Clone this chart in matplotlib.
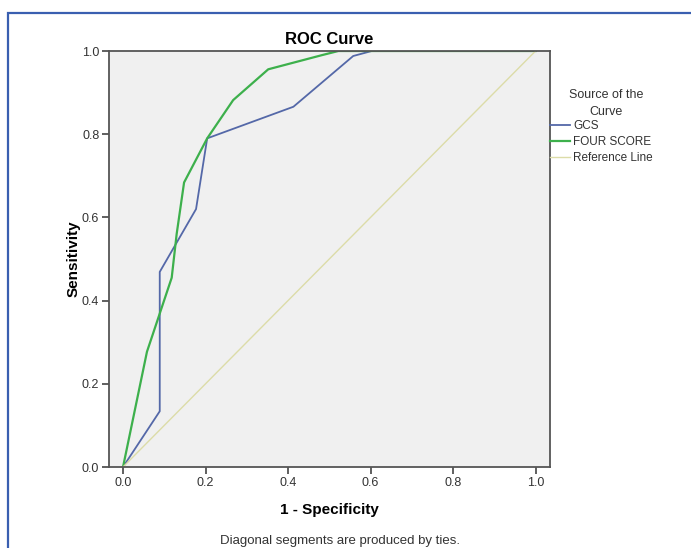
import matplotlib
matplotlib.use("Agg")
import matplotlib.pyplot as plt
from matplotlib.patches import Rectangle

plt.rcParams['font.family'] = ['Liberation Sans', 'DejaVu Sans']

# ROC data (1 - specificity, sensitivity)
gcs_x = [0.0, 0.089, 0.089, 0.177, 0.204, 0.413, 0.558, 0.603, 1.0]
gcs_y = [0.0, 0.134, 0.469, 0.620, 0.790, 0.866, 0.988, 1.0, 1.0]
four_x = [0.0, 0.058, 0.118, 0.130, 0.148, 0.204, 0.267, 0.352, 0.482, 0.522, 1.0]
four_y = [0.0, 0.277, 0.455, 0.560, 0.684, 0.790, 0.882, 0.956, 0.990, 1.0, 1.0]
ref_x = [0.0, 1.0]
ref_y = [0.0, 1.0]
ticks = [0.0, 0.2, 0.4, 0.6, 0.8, 1.0]

fig = plt.figure(figsize=(6.91, 5.48), dpi=100)
W, H = 691, 548

# blue frame around the image
fig.patches.append(Rectangle((7.5 / W, -0.1), 1.2, (548 - 12.5) / H + 0.1,
                             transform=fig.transFigure, fill=False,
                             edgecolor='#3a5fb0', linewidth=1.6))

ax = fig.add_axes([109 / W, 1 - 467 / H, (550 - 109) / W, (467 - 51) / H])
ax.set_facecolor('#f0f0f0')

l1, = ax.plot(gcs_x, gcs_y, color='#5468a8', lw=1.3)
l2, = ax.plot(four_x, four_y, color='#3db04c', lw=1.6)
l3, = ax.plot(ref_x, ref_y, color='#dcdca8', lw=1.0)

ax.set_xlim(-0.034, 1.035)
ax.set_ylim(0, 1)
ax.set_xticks(ticks)
ax.set_yticks(ticks)
ax.set_xticklabels(['%.1f' % t for t in ticks])
ax.set_yticklabels(['%.1f' % t for t in ticks])
ax.tick_params(direction='out', length=5, width=1.2, color='#444444',
               labelsize=9, labelcolor='#333333', pad=2)
for s in ax.spines.values():
    s.set_color('#555555')
    s.set_linewidth(1.3)

ax.set_title('ROC Curve', fontsize=12, fontweight='bold', pad=5)
ax.set_xlabel('1 - Specificity', fontsize=11, fontweight='bold', labelpad=10)
ax.set_ylabel('Sensitivity', fontsize=11, fontweight='bold', labelpad=1)

fig.text(606 / W, 1 - 103.5 / H, 'Source of the\nCurve', ha='center', va='center',
         fontsize=9, color='#333333', linespacing=1.45)
leg = fig.legend([l1, l2, l3], ['GCS', 'FOUR SCORE', 'Reference Line'],
                 loc='upper left', bbox_to_anchor=(550 / W, 1 - 120 / H),
                 frameon=False, fontsize=8.5, handlelength=1.7, handletextpad=0.25,
                 labelspacing=0.33, borderaxespad=0, borderpad=0)
for t in leg.get_texts():
    t.set_color('#333333')

fig.text(340 / W, 1 - 541 / H, 'Diagonal segments are produced by ties.',
         ha='center', va='center', fontsize=9.5, color='#333333')

fig.savefig('out.png', dpi=100, facecolor='white')
